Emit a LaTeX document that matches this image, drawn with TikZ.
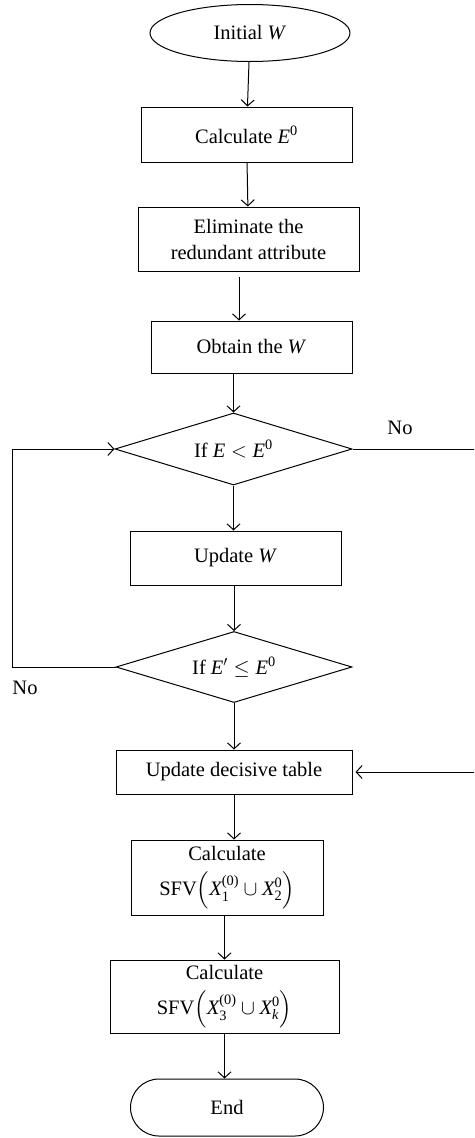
\documentclass[tikz,border=0pt]{standalone}
\usepackage{amsmath}
\usepackage{fontspec}
\setmainfont{Liberation Serif}
\usetikzlibrary{shapes.geometric,shapes.misc,arrows.meta}
\begin{document}
\begin{tikzpicture}[x=1pt,y=-1pt,
  every node/.style={font=\fontsize{20.5}{26}\selectfont, inner sep=0pt, line width=1pt},
  boxnode/.style={draw, rectangle, align=center},
  decnode/.style={draw, diamond, aspect=3.3},
  arr/.style={line width=1pt, -{Straight Barb[length=6pt,width=13pt,line width=1pt]}},
  ln/.style={line width=1pt}]
\useasboundingbox (0,0) rectangle (474,1138);
\clip (0,0) rectangle (474,1138);
\node[draw, ellipse, minimum width=200pt, minimum height=57pt] (init) at (250,33) {Initial \textit{W}};
\node[boxnode, minimum width=211pt, minimum height=55pt] (calc) at (246.5,134.5) {Calculate $\textit{E}^{\text{0}}$};
\node[boxnode, minimum width=221pt, minimum height=64pt] (elim) at (248.5,239) {Eliminate the\\redundant attribute};
\node[boxnode, minimum width=201pt, minimum height=52pt] (obt) at (251.5,347) {Obtain the \textit{W}};
\node[decnode, minimum width=237pt, minimum height=72pt] (d1) at (233.5,449) {If $\textit{E} < \textit{E}^{\text{0}}$};
\node[boxnode, minimum width=211pt, minimum height=54pt] (upd) at (235.5,558) {Update \textit{W}};
\node[decnode, minimum width=236pt, minimum height=71pt] (d2) at (234,667) {If $\textit{E}' \leq \textit{E}^{\text{0}}$};
\node[boxnode, minimum width=236pt, minimum height=44pt] (tab) at (234,772) {Update decisive table};
\node[boxnode, minimum width=192pt, minimum height=75pt] (c1) at (227,877.5) {Calculate\\[9pt]SFV$\left(\textit{X}_{\text{1}}^{\text{(0)}}\cup \textit{X}_{\text{2}}^{\text{0}}\right)$};
\node[boxnode, minimum width=229pt, minimum height=73pt] (c2) at (224.5,996.5) {Calculate\\[9pt]SFV$\left(\textit{X}_{\text{3}}^{\text{(0)}}\cup \textit{X}_{\textit{k}}^{\text{0}}\right)$};
\node[draw, rounded rectangle, minimum width=193pt, minimum height=57pt] (end) at (227,1107.5) {End};
\node (no1) at (400,428) {No};
\node (no2) at (25,688) {No};
\coordinate (L) at (12,0);
\coordinate (R) at (478,0);
\draw[arr] (init) -- (calc);
\draw[arr] (calc) -- (elim);
\draw[arr] ([xshift=-9.5pt,yshift=-5pt]elim.south) -- ([xshift=-12.5pt]obt.north);
\draw[arr] (obt.south -| d1.north) -- (d1.north);
\draw[arr] (d1.south) -- (d1.south |- upd.north);
\draw[arr] (upd.south -| d2.north) -- (d2.north);
\draw[arr] (d2.south) -- (d2.south |- tab.north);
\draw[arr] (d2.west) -- (d2.west -| L) -- (L |- d1.west) -- (d1.west);
\draw[arr] (d1.east) -- (d1.east -| R) -- (R |- tab.east) -- ([xshift=3pt]tab.east);
\draw[arr] (tab.south) -- (tab.south |- c1.north);
\draw[arr] (c1.south -| c2.north) -- (c2.north);
\draw[arr] (c2.south) -- (c2.south |- end.north);
\end{tikzpicture}
\end{document}
